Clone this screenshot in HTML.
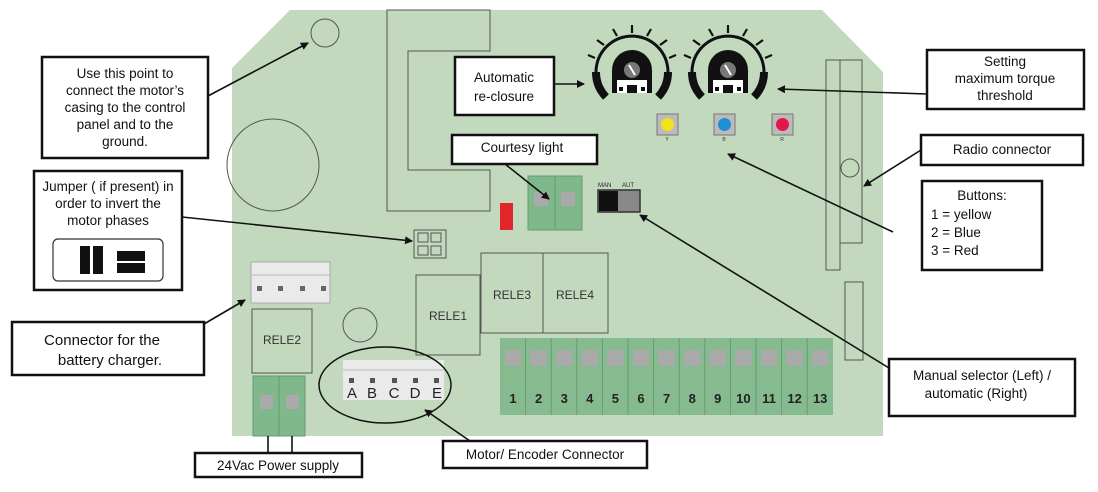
<!DOCTYPE html>
<html><head><meta charset="utf-8"><style>
body{margin:0;background:#fff;}
svg{display:block;font-family:"Liberation Sans",sans-serif;}
.lb{font-size:13.5px;fill:#111;}
</style></head><body>
<svg width="1098" height="492" viewBox="0 0 1098 492" xmlns="http://www.w3.org/2000/svg">
<defs><marker id="ar" markerWidth="8" markerHeight="8" refX="7" refY="4" orient="auto" markerUnits="userSpaceOnUse"><path d="M0,0 L8,4 L0,8 z" fill="#111"/></marker></defs>
<polygon points="290,10 822,10 883,72 883,436 232,436 232,68" fill="#c2d9bd"/>
<circle cx="325" cy="33" r="14" fill="none" stroke="#555"/>
<circle cx="273" cy="165" r="46" fill="none" stroke="#555"/>
<circle cx="360" cy="325" r="17" fill="none" stroke="#555"/>
<polygon points="490,10 387,10 387,211 490,211 490,170 408,170 408,51 490,51" fill="none" stroke="#555"/>
<rect x="500" y="203" width="13" height="27" fill="#e0262a"/>
<rect x="528" y="176" width="54" height="54" fill="#7fb88b" stroke="#6a9a72"/>
<line x1="555" y1="176" x2="555" y2="230" stroke="#6a9a72"/>
<rect x="534" y="192" width="14" height="14" fill="#aaa"/><rect x="561" y="192" width="14" height="14" fill="#aaa"/>
<text x="598" y="187" font-size="6" fill="#222">MAN</text><text x="622" y="187" font-size="6" fill="#222">AUT</text>
<rect x="598" y="190" width="42" height="22" fill="#888" stroke="#333" stroke-width="1.5"/>
<rect x="599" y="191" width="19" height="20" fill="#111"/>
<g fill="none" stroke="#555"><rect x="414" y="230" width="32" height="28"/><rect x="418" y="233" width="10" height="9"/><rect x="431" y="233" width="10" height="9"/><rect x="418" y="246" width="10" height="9"/><rect x="431" y="246" width="10" height="9"/></g>
<rect x="251" y="262" width="79" height="41" fill="#eaeaea" stroke="#aaa"/>
<line x1="251" y1="275" x2="330" y2="275" stroke="#bbb"/>
<g fill="#666"><rect x="257" y="286" width="5" height="5"/><rect x="278" y="286" width="5" height="5"/><rect x="300" y="286" width="5" height="5"/><rect x="321" y="286" width="5" height="5"/></g>
<g fill="none" stroke="#555"><rect x="252" y="309" width="60" height="64"/><rect x="416" y="275" width="64" height="80"/><rect x="481" y="253" width="62" height="80"/><rect x="543" y="253" width="65" height="80"/></g>
<g font-size="12" fill="#333"><text x="282" y="344" text-anchor="middle">RELE2</text><text x="448" y="320" text-anchor="middle">RELE1</text><text x="512" y="299" text-anchor="middle">RELE3</text><text x="575" y="299" text-anchor="middle">RELE4</text></g>
<g fill="none" stroke="#555"><rect x="826" y="60" width="14" height="210"/><rect x="840" y="60" width="22" height="183"/><circle cx="850" cy="168" r="9" fill="#c2d9bd"/><rect x="845" y="282" width="18" height="78"/></g>
<rect x="253" y="376" width="52" height="60" fill="#7fb88b" stroke="#6a9a72"/><line x1="279" y1="376" x2="279" y2="436" stroke="#6a9a72"/>
<rect x="260" y="395" width="13" height="14" fill="#aaa"/><rect x="286" y="395" width="13" height="14" fill="#aaa"/>
<rect x="343" y="360" width="101" height="40" fill="#eaeaea"/>
<line x1="343" y1="370" x2="444" y2="370" stroke="#bbb"/>
<g fill="#555"><rect x="349" y="378" width="5" height="5"/><rect x="370" y="378" width="5" height="5"/><rect x="392" y="378" width="5" height="5"/><rect x="413" y="378" width="5" height="5"/><rect x="434" y="378" width="5" height="5"/></g>
<g font-size="15" fill="#222" text-anchor="middle"><text x="352" y="398">A</text><text x="372" y="398">B</text><text x="394" y="398">C</text><text x="415" y="398">D</text><text x="437" y="398">E</text></g>
<ellipse cx="385" cy="385" rx="66" ry="38" fill="none" stroke="#111" stroke-width="1.5"/>
<rect x="500" y="338" width="333" height="77" fill="#86bb90"/>
<g stroke="#6a9a72" fill="none">
<line x1="525.6" y1="338" x2="525.6" y2="415"/><line x1="551.2" y1="338" x2="551.2" y2="415"/><line x1="576.8" y1="338" x2="576.8" y2="415"/><line x1="602.4" y1="338" x2="602.4" y2="415"/><line x1="628" y1="338" x2="628" y2="415"/><line x1="653.6" y1="338" x2="653.6" y2="415"/><line x1="679.2" y1="338" x2="679.2" y2="415"/><line x1="704.8" y1="338" x2="704.8" y2="415"/><line x1="730.4" y1="338" x2="730.4" y2="415"/><line x1="756" y1="338" x2="756" y2="415"/><line x1="781.6" y1="338" x2="781.6" y2="415"/><line x1="807.2" y1="338" x2="807.2" y2="415"/>
</g>
<g fill="#aaa">
<rect x="505" y="350" width="16" height="16"/><rect x="530.6" y="350" width="16" height="16"/><rect x="556.2" y="350" width="16" height="16"/><rect x="581.8" y="350" width="16" height="16"/><rect x="607.4" y="350" width="16" height="16"/><rect x="633" y="350" width="16" height="16"/><rect x="658.6" y="350" width="16" height="16"/><rect x="684.2" y="350" width="16" height="16"/><rect x="709.8" y="350" width="16" height="16"/><rect x="735.4" y="350" width="16" height="16"/><rect x="761" y="350" width="16" height="16"/><rect x="786.6" y="350" width="16" height="16"/><rect x="812.2" y="350" width="16" height="16"/>
</g>
<g font-size="13" font-weight="bold" fill="#222" text-anchor="middle">
<text x="513" y="403">1</text><text x="538.6" y="403">2</text><text x="564.2" y="403">3</text><text x="589.8" y="403">4</text><text x="615.4" y="403">5</text><text x="641" y="403">6</text><text x="666.6" y="403">7</text><text x="692.2" y="403">8</text><text x="717.8" y="403">9</text><text x="743.4" y="403">10</text><text x="769" y="403">11</text><text x="794.6" y="403">12</text><text x="820.2" y="403">13</text>
</g>
<!-- knobs -->
<g id="k1">
<path d="M602,92 A36,36 0 1 1 662,92" fill="none" stroke="#111" stroke-width="3"/>
<path d="M596,72 A36,36 0 0 0 606,97" fill="none" stroke="#111" stroke-width="8"/>
<path d="M668,72 A36,36 0 0 1 658,97" fill="none" stroke="#111" stroke-width="8"/>
<g stroke="#111" stroke-width="2.2">
<line x1="632" y1="33" x2="632" y2="25"/><line x1="617" y1="36" x2="613" y2="29"/><line x1="647" y1="36" x2="651" y2="29"/><line x1="604" y1="45" x2="597" y2="40"/><line x1="660" y1="45" x2="667" y2="40"/><line x1="595" y1="58" x2="588" y2="55"/><line x1="669" y1="58" x2="676" y2="55"/>
</g>
<path d="M612,93 L612,70 A20,20 0 0 1 652,70 L652,93 Z" fill="#111"/>
<rect x="617" y="80" width="30" height="13" fill="#fff"/><rect x="627" y="85" width="10" height="8" fill="#111"/>
<rect x="619" y="87" width="4" height="4" fill="#111"/><rect x="641" y="87" width="4" height="4" fill="#111"/>
<circle cx="632" cy="70" r="8" fill="#777"/><line x1="629" y1="65" x2="635" y2="75" stroke="#fff" stroke-width="2"/>
</g>
<use href="#k1" x="96"/>
<g stroke="#777" fill="#bbb"><rect x="657" y="114" width="21" height="21"/><rect x="714" y="114" width="21" height="21"/><rect x="772" y="114" width="21" height="21"/></g>
<circle cx="667.5" cy="124.5" r="6.5" fill="#f3e21b"/><circle cx="724.5" cy="124.5" r="6.5" fill="#1e8fd6"/><circle cx="782.5" cy="124.5" r="6.5" fill="#e4174a"/>
<g font-size="5" fill="#333" text-anchor="middle"><text x="667" y="141">Y</text><text x="724" y="141">B</text><text x="782" y="141">R</text></g>
<g stroke="#111" stroke-width="1.6" fill="none" marker-end="url(#ar)">
<line x1="208" y1="96" x2="308" y2="43"/>
<line x1="182" y1="217" x2="412" y2="241"/>
<line x1="204" y1="324" x2="245" y2="300"/>
<line x1="470" y1="441" x2="425" y2="410"/>
<line x1="554" y1="84" x2="584" y2="84"/>
<line x1="505" y1="164" x2="549" y2="199"/>
<line x1="927" y1="94" x2="778" y2="89"/>
<line x1="921" y1="150" x2="864" y2="186"/>
<line x1="893" y1="232" x2="728" y2="154"/>
<line x1="889" y1="368" x2="640" y2="215"/>
</g>
<g stroke="#111" stroke-width="1.6"><line x1="268" y1="436" x2="268" y2="453"/><line x1="292" y1="436" x2="292" y2="453"/></g>
<g fill="#fff" stroke="#111" stroke-width="2.5">
<rect x="42" y="57" width="166" height="101"/>
<rect x="34" y="171" width="148" height="119"/>
<rect x="12" y="322" width="192" height="53"/>
<rect x="195" y="453" width="167" height="24"/>
<rect x="443" y="441" width="204" height="27"/>
<rect x="455" y="57" width="99" height="58"/>
<rect x="452" y="135" width="145" height="29"/>
<rect x="927" y="50" width="157" height="59"/>
<rect x="921" y="135" width="162" height="30"/>
<rect x="922" y="181" width="120" height="89"/>
<rect x="889" y="359" width="186" height="57"/>
</g>
<rect x="53" y="239" width="110" height="42" rx="5" fill="#fff" stroke="#333" stroke-width="1.2"/>
<rect x="80" y="246" width="10" height="28" fill="#111"/><rect x="93" y="246" width="10" height="28" fill="#111"/>
<rect x="117" y="251" width="28" height="10" fill="#111"/><rect x="117" y="263" width="28" height="10" fill="#111"/>
<g class="lb" text-anchor="middle">
<text x="125" y="78">Use this point to</text><text x="125" y="95">connect the motor’s</text><text x="125" y="112">casing to the control</text><text x="125" y="129">panel and to the</text><text x="125" y="146">ground.</text>
<text x="108" y="191">Jumper ( if present) in</text><text x="108" y="208">order to invert the</text><text x="108" y="225">motor phases</text>
<text x="102" y="345" font-size="15">Connector for the</text><text x="110" y="365" font-size="15">battery charger.</text>
<text x="278" y="470">24Vac Power supply</text>
<text x="545" y="459">Motor/ Encoder Connector</text>
<text x="504" y="82">Automatic</text><text x="504" y="101">re-closure</text>
<text x="522" y="152">Courtesy light</text>
<text x="1005" y="66">Setting</text><text x="1005" y="83">maximum torque</text><text x="1005" y="100">threshold</text>
<text x="1002" y="154">Radio connector</text>
<text x="982" y="200">Buttons:</text>
</g>
<g class="lb">
<text x="931" y="219">1 = yellow</text><text x="931" y="237">2 = Blue</text><text x="931" y="255">3 = Red</text>
</g>
<g class="lb" text-anchor="middle"><text x="982" y="380">Manual selector  (Left) /</text><text x="976" y="398">automatic (Right)</text></g>
</svg>
</body></html>
